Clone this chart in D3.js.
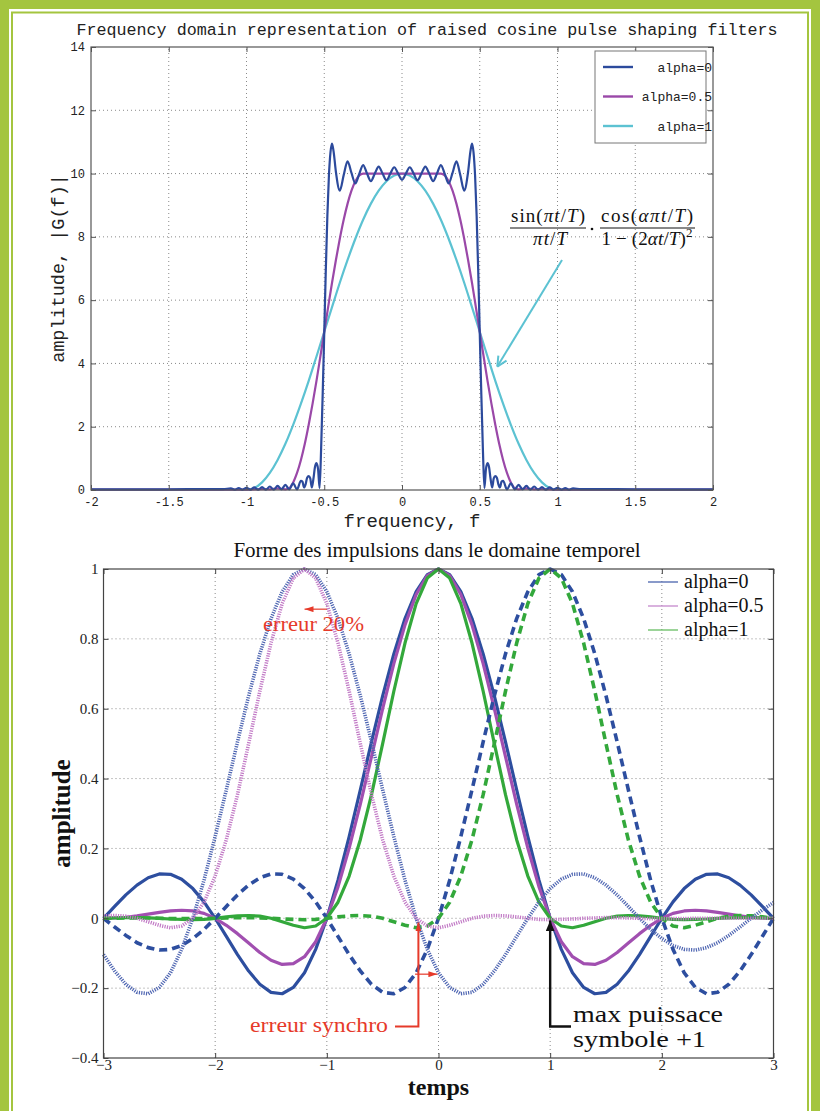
<!DOCTYPE html>
<html><head><meta charset="utf-8">
<script src="https://cdn.jsdelivr.net/npm/d3@7"></script>
<style>html,body{margin:0;padding:0;background:#fff}svg{display:block}</style>
</head><body><svg id="c" width="820" height="1111"></svg>
<script>
// ---------- Frequency response |G(f)| ----------
const freqTicks = [-2, -1.5, -1, -0.5, 0, 0.5, 1, 1.5, 2];
const freqTickLabels = ["-2", "-1.5", "-1", "-0.5", "0", "0.5", "1", "1.5", "2"];
const ampTicks = [0, 2, 4, 6, 8, 10, 12, 14];

// alpha = 0 (truncated sinc, Gibbs ripple)
const fA0 = [-2, -1.5, -1.25, -1.15, -1.1, -1.075, -1.05, -1.025, -1, -0.975, -0.95, -0.925, -0.9, -0.875, -0.85, -0.825, -0.8, -0.775, -0.75, -0.725, -0.7, -0.675, -0.65, -0.64, -0.63, -0.62, -0.61, -0.6, -0.59, -0.58, -0.57, -0.56, -0.55, -0.54, -0.53, -0.52, -0.51, -0.5, -0.49, -0.48, -0.47, -0.46, -0.45, -0.44, -0.425, -0.4, -0.375, -0.35, -0.325, -0.3, -0.275, -0.25, -0.225, -0.2, -0.175, -0.15, -0.125, -0.1, -0.075, -0.05, -0.025,
  0, 0.025, 0.05, 0.075, 0.1, 0.125, 0.15, 0.175, 0.2, 0.225, 0.25, 0.275, 0.3, 0.325, 0.35, 0.375, 0.4, 0.425, 0.44, 0.45, 0.46, 0.47, 0.48, 0.49, 0.5, 0.51, 0.52, 0.53, 0.54, 0.55, 0.56, 0.57, 0.58, 0.59, 0.6, 0.61, 0.62, 0.63, 0.64, 0.65, 0.675, 0.7, 0.725, 0.75, 0.775, 0.8, 0.825, 0.85, 0.875, 0.9, 0.925, 0.95, 0.975, 1, 1.025, 1.05, 1.075, 1.1, 1.15, 1.25, 1.5, 2];
const gA0 = [0.02, 0.02, 0.03, 0.03, 0.05, 0.01, 0.06, 0.01, 0.07, 0.01, 0.08, 0.01, 0.09, 0.01, 0.11, 0.01, 0.13, 0.02, 0.16, 0.02, 0.21, 0.02, 0.29, 0.26, 0.08, 0.18, 0.39, 0.44, 0.37, 0.08, 0.34, 0.72, 0.85, 0.67, 0.06, 1.33, 3.04, 4.97, 6.95, 8.66, 9.93, 10.67, 10.95, 10.70, 10.05, 9.46, 9.95, 10.39, 10.02, 9.69, 9.99, 10.27, 10.00, 9.76, 10.00, 10.22, 10.00, 9.79, 10.00, 10.20, 10.00,
  9.80, 10.00, 10.20, 10.00, 9.79, 10.00, 10.22, 10.00, 9.76, 10.00, 10.27, 9.99, 9.69, 10.02, 10.39, 9.95, 9.46, 10.05, 10.70, 10.95, 10.67, 9.93, 8.66, 6.95, 4.97, 3.04, 1.33, 0.06, 0.67, 0.85, 0.72, 0.34, 0.08, 0.37, 0.44, 0.39, 0.18, 0.08, 0.26, 0.29, 0.02, 0.21, 0.02, 0.16, 0.02, 0.13, 0.01, 0.11, 0.01, 0.09, 0.01, 0.08, 0.01, 0.07, 0.01, 0.06, 0.01, 0.05, 0.03, 0.03, 0.02, 0.02];

// alpha = 0.5
const fA05 = [-2, -1, -0.9, -0.85, -0.8, -0.75, -0.725, -0.7, -0.675, -0.65, -0.625, -0.6, -0.575, -0.55, -0.525, -0.5, -0.475, -0.45, -0.425, -0.4, -0.375, -0.35, -0.325, -0.3, -0.275, -0.25,
  0.25, 0.275, 0.3, 0.325, 0.35, 0.375, 0.4, 0.425, 0.45, 0.475, 0.5, 0.525, 0.55, 0.575, 0.6, 0.625, 0.65, 0.675, 0.7, 0.725, 0.75, 0.8, 0.85, 0.9, 1, 2];
const gA05 = [0.01, 0.01, 0.03, 0.02, 0.05, 0.02, 0.06, 0.24, 0.54, 0.95, 1.46, 2.06, 2.73, 3.45, 4.22, 5.00, 5.78, 6.55, 7.27, 7.94, 8.54, 9.05, 9.46, 9.76, 9.94, 10.00,
  10.00, 9.94, 9.76, 9.46, 9.05, 8.54, 7.94, 7.27, 6.55, 5.78, 5.00, 4.22, 3.45, 2.73, 2.06, 1.46, 0.95, 0.54, 0.24, 0.06, 0.02, 0.05, 0.02, 0.03, 0.01, 0.01];

// alpha = 1
const fA1 = [-2, -1.5, -1, -0.95, -0.9, -0.85, -0.8, -0.75, -0.7, -0.65, -0.6, -0.55, -0.5, -0.45, -0.4, -0.35, -0.3, -0.25, -0.2, -0.15, -0.1, -0.05,
  0, 0.05, 0.1, 0.15, 0.2, 0.25, 0.3, 0.35, 0.4, 0.45, 0.5, 0.55, 0.6, 0.65, 0.7, 0.75, 0.8, 0.85, 0.9, 0.95, 1, 1.5, 2];
const gA1 = [0, 0, 0, 0.06, 0.24, 0.54, 0.95, 1.46, 2.06, 2.73, 3.45, 4.22, 5.00, 5.78, 6.55, 7.27, 7.94, 8.54, 9.05, 9.46, 9.76, 9.94,
  10.00, 9.94, 9.76, 9.46, 9.05, 8.54, 7.94, 7.27, 6.55, 5.78, 5.00, 4.22, 3.45, 2.73, 2.06, 1.46, 0.95, 0.54, 0.24, 0.06, 0, 0, 0];

const freqSeries = [
  {label: "alpha=0",   f: fA0,  g: gA0,  color: "#2c4a9c"},
  {label: "alpha=0.5", f: fA05, g: gA05, color: "#9a48a8"},
  {label: "alpha=1",   f: fA1,  g: gA1,  color: "#5cc2d2"}
];

// ---------- Time-domain pulses ----------
const timeTicks = [-3, -2, -1, 0, 1, 2, 3];
const timeTickLabels = ["\u22123", "\u22122", "\u22121", "0", "1", "2", "3"];
const pulseTicks = [-0.4, -0.2, 0, 0.2, 0.4, 0.6, 0.8, 1];
const pulseTickLabels = ["\u22120.4", "\u22120.2", "0", "0.2", "0.4", "0.6", "0.8", "1"];

const t = [-3, -2.9, -2.8, -2.7, -2.6, -2.5, -2.4, -2.3, -2.2, -2.1, -2, -1.9, -1.8, -1.7, -1.6, -1.5, -1.4, -1.3, -1.2, -1.1, -1, -0.9, -0.8, -0.7, -0.6, -0.5, -0.4, -0.3, -0.2, -0.1,
  0, 0.1, 0.2, 0.3, 0.4, 0.5, 0.6, 0.7, 0.8, 0.9, 1, 1.1, 1.2, 1.3, 1.4, 1.5, 1.6, 1.7, 1.8, 1.9, 2, 2.1, 2.2, 2.3, 2.4, 2.5, 2.6, 2.7, 2.8, 2.9, 3];

// pulses centred on t = 0
const h0 = [0, 0.034, 0.067, 0.095, 0.116, 0.127, 0.126, 0.112, 0.085, 0.047, 0, -0.052, -0.104, -0.151, -0.189, -0.212, -0.216, -0.198, -0.156, -0.089, 0, 0.109, 0.234, 0.368, 0.505, 0.637, 0.757, 0.858, 0.935, 0.984,
  1, 0.984, 0.935, 0.858, 0.757, 0.637, 0.505, 0.368, 0.234, 0.109, 0, -0.089, -0.156, -0.198, -0.216, -0.212, -0.189, -0.151, -0.104, -0.052, 0, 0.047, 0.085, 0.112, 0.126, 0.127, 0.116, 0.095, 0.067, 0.034, 0];
const h05 = [0, 0.001, 0.003, 0.007, 0.012, 0.017, 0.021, 0.023, 0.021, 0.014, 0, -0.020, -0.044, -0.071, -0.098, -0.120, -0.132, -0.130, -0.110, -0.067, 0, 0.090, 0.201, 0.327, 0.463, 0.600, 0.729, 0.840, 0.927, 0.981,
  1, 0.981, 0.927, 0.840, 0.729, 0.600, 0.463, 0.327, 0.201, 0.090, 0, -0.067, -0.110, -0.130, -0.132, -0.120, -0.098, -0.071, -0.044, -0.020, 0, 0.014, 0.021, 0.023, 0.021, 0.017, 0.012, 0.007, 0.003, 0.001, 0];
const h1 = [0, 0.001, 0.002, 0.002, 0.001, 0, -0.002, -0.003, -0.004, -0.003, 0, 0.004, 0.007, 0.008, 0.006, 0, -0.010, -0.020, -0.027, -0.022, 0, 0.046, 0.121, 0.225, 0.354, 0.500, 0.650, 0.788, 0.901, 0.974,
  1, 0.974, 0.901, 0.788, 0.650, 0.500, 0.354, 0.225, 0.121, 0.046, 0, -0.022, -0.027, -0.020, -0.010, 0, 0.006, 0.008, 0.007, 0.004, 0, -0.003, -0.004, -0.003, -0.002, 0, 0.001, 0.002, 0.002, 0.001, 0];
// next symbol, centred on t = 1
const h0Next = [0, -0.025, -0.049, -0.070, -0.084, -0.091, -0.089, -0.078, -0.058, -0.032, 0, 0.034, 0.067, 0.095, 0.116, 0.127, 0.126, 0.112, 0.085, 0.047, 0, -0.052, -0.104, -0.151, -0.189, -0.212, -0.216, -0.198, -0.156, -0.089,
  0, 0.109, 0.234, 0.368, 0.505, 0.637, 0.757, 0.858, 0.935, 0.984, 1, 0.984, 0.935, 0.858, 0.757, 0.637, 0.505, 0.368, 0.234, 0.109, 0, -0.089, -0.156, -0.198, -0.216, -0.212, -0.189, -0.151, -0.104, -0.052, 0];
const h1Next = [0, 0, 0.001, 0.001, 0.001, 0, -0.001, -0.001, -0.001, -0.001, 0, 0.001, 0.002, 0.002, 0.001, 0, -0.002, -0.003, -0.004, -0.003, 0, 0.004, 0.007, 0.008, 0.006, 0, -0.010, -0.020, -0.027, -0.022,
  0, 0.046, 0.121, 0.225, 0.354, 0.500, 0.650, 0.788, 0.901, 0.974, 1, 0.974, 0.901, 0.788, 0.650, 0.500, 0.354, 0.225, 0.121, 0.046, 0, -0.022, -0.027, -0.020, -0.010, 0, 0.006, 0.008, 0.007, 0.004, 0];
// previous symbol received with a 20% timing error, centred on t = -1.2
const h0Late = [-0.104, -0.151, -0.189, -0.212, -0.216, -0.198, -0.156, -0.089, 0, 0.109, 0.234, 0.368, 0.505, 0.637, 0.757, 0.858, 0.935, 0.984, 1, 0.984, 0.935, 0.858, 0.757, 0.637, 0.505, 0.368, 0.234, 0.109, 0, -0.089,
  -0.156, -0.198, -0.216, -0.212, -0.189, -0.151, -0.104, -0.052, 0, 0.047, 0.085, 0.112, 0.126, 0.127, 0.116, 0.095, 0.067, 0.034, 0, -0.032, -0.058, -0.078, -0.089, -0.091, -0.084, -0.070, -0.049, -0.025, 0, 0.024, 0.045];
const h05Late = [0.007, 0.008, 0.006, 0, -0.010, -0.020, -0.027, -0.022, 0, 0.046, 0.121, 0.225, 0.354, 0.500, 0.650, 0.788, 0.901, 0.974, 1, 0.974, 0.901, 0.788, 0.650, 0.500, 0.354, 0.225, 0.121, 0.046, 0, -0.022,
  -0.027, -0.020, -0.010, 0, 0.006, 0.008, 0.007, 0.004, 0, -0.003, -0.004, -0.003, -0.002, 0, 0.001, 0.002, 0.002, 0.001, 0, -0.001, -0.001, -0.001, -0.001, 0, 0, 0, 0, 0, 0, 0, 0];

const pulseSeries = [
  {v: h0,      color: "#2d4e9f", width: 3.2, dash: null},
  {v: h05,     color: "#a14fb0", width: 3.2, dash: null},
  {v: h1,      color: "#33a83b", width: 3.2, dash: null},
  {v: h0Next,  color: "#2d4e9f", width: 3.6, dash: "8,5"},
  {v: h1Next,  color: "#33a83b", width: 3.6, dash: "8,5"},
  {v: h0Late,  color: "#4f66b2", width: 3.6, dash: "1.2,1.2"},
  {v: h05Late, color: "#c27ac6", width: 3.6, dash: "1.2,1.2"}
];
const pulseLegend = [
  {label: "alpha=0",   color: "#4a63ad"},
  {label: "alpha=0.5", color: "#c488cc"},
  {label: "alpha=1",   color: "#66bd62"}
];

const svg = d3.select("#c");
const GREEN = "#a4c53f";

// page frame
svg.append("rect").attr("width", 820).attr("height", 1111).attr("fill", GREEN);
svg.append("rect").attr("x", 9).attr("y", 9).attr("width", 802).attr("height", 1200).attr("fill", "#fff");
svg.append("rect").attr("x", 12).attr("y", 12.5).attr("width", 796).attr("height", 1200)
  .attr("fill", "none").attr("stroke", GREEN).attr("stroke-width", 2);

const defs = svg.append("defs");
function headMarker(id, color, w, h) {
  defs.append("marker").attr("id", id).attr("viewBox", `0 0 ${w} ${h}`)
    .attr("refX", w).attr("refY", h / 2).attr("markerWidth", w).attr("markerHeight", h)
    .attr("markerUnits", "userSpaceOnUse").attr("orient", "auto")
    .append("path").attr("d", `M0,0L${w},${h / 2}L0,${h}Z`).attr("fill", color);
}
headMarker("redHead", "#e63a2a", 9, 6);
headMarker("blackHead", "#111", 11, 9);

function drawGrid(g, x, y, xt, yt) {
  const [x0, x1] = x.range(), [y0, y1] = y.range();
  g.append("g").selectAll("line").data(xt.slice(1, -1)).join("line")
    .attr("x1", d => x(d)).attr("x2", d => x(d)).attr("y1", y0).attr("y2", y1)
    .attr("stroke", "#8a8a8a").attr("stroke-width", 1).attr("stroke-dasharray", "1,3");
  g.append("g").selectAll("line").data(yt.slice(1, -1)).join("line")
    .attr("y1", d => y(d)).attr("y2", d => y(d)).attr("x1", x0).attr("x2", x1)
    .attr("stroke", "#8a8a8a").attr("stroke-width", 1).attr("stroke-dasharray", "1,3");
}

function drawAxes(g, x, y, xt, xl, yt, yl, font, size, color, xPad, yPad) {
  const [x0, x1] = x.range(), [y0, y1] = y.range();
  const style = s => s.call(a => a.select(".domain").remove())
    .call(a => a.selectAll("line").attr("stroke", color))
    .call(a => a.selectAll("text").attr("font-family", font).attr("font-size", size).attr("fill", "#222"));
  g.append("g").attr("transform", `translate(0,${y0})`)
    .call(d3.axisBottom(x).tickValues(xt).tickFormat((d, i) => xl[i]).tickSizeInner(-5).tickSizeOuter(0).tickPadding(xPad)).call(style);
  g.append("g").attr("transform", `translate(0,${y1})`)
    .call(d3.axisTop(x).tickValues(xt).tickFormat("").tickSizeInner(-5).tickSizeOuter(0)).call(style);
  g.append("g").attr("transform", `translate(${x0},0)`)
    .call(d3.axisLeft(y).tickValues(yt).tickFormat((d, i) => yl[i]).tickSizeInner(-5).tickSizeOuter(0).tickPadding(yPad)).call(style);
  g.append("g").attr("transform", `translate(${x1},0)`)
    .call(d3.axisRight(y).tickValues(yt).tickFormat("").tickSizeInner(-5).tickSizeOuter(0)).call(style);
  g.append("rect").attr("x", x0).attr("y", y1).attr("width", x1 - x0).attr("height", y0 - y1)
    .attr("fill", "none").attr("stroke", color).attr("stroke-width", 1.2);
}

// ================= upper chart =================
const MONO = "Liberation Mono, DejaVu Sans Mono, monospace";
const fx = d3.scaleLinear().domain([-2, 2]).range([91, 713]);
const fy = d3.scaleLinear().domain([0, 14]).range([490, 47]);
const g1 = svg.append("g");

g1.append("text").attr("x", 427).attr("y", 35).attr("text-anchor", "middle")
  .attr("font-family", MONO).attr("font-size", 16.7).attr("fill", "#222")
  .text("Frequency domain representation of raised cosine pulse shaping filters");

drawGrid(g1, fx, fy, freqTicks, ampTicks);

const lineF = d3.line().x(d => fx(d[0])).y(d => fy(d[1])).curve(d3.curveMonotoneX);
freqSeries.slice().reverse().forEach(s => {
  g1.append("path").datum(d3.zip(s.f, s.g)).attr("d", lineF)
    .attr("fill", "none").attr("stroke", s.color).attr("stroke-width", 2.2).attr("stroke-linejoin", "round");
});

drawAxes(g1, fx, fy, freqTicks, freqTickLabels, ampTicks, ampTicks.map(String), MONO, 12, "#555", 7, 6);

g1.append("text").attr("x", fx(0) + 10).attr("y", 527).attr("text-anchor", "middle")
  .attr("font-family", MONO).attr("font-size", 19).attr("fill", "#222").text("frequency, f");
g1.append("text").attr("transform", `translate(64,${fy(7)}) rotate(-90)`).attr("text-anchor", "middle")
  .attr("font-family", MONO).attr("font-size", 18.5).attr("fill", "#222").text("amplitude, |G(f)|");

// legend
const lg1 = g1.append("g");
lg1.append("rect").attr("x", 595).attr("y", 51).attr("width", 111).attr("height", 92)
  .attr("fill", "#fff").attr("stroke", "#777").attr("stroke-width", 1);
freqSeries.forEach((s, i) => {
  const yy = 67 + i * 29.5;
  lg1.append("line").attr("x1", 603).attr("x2", 633).attr("y1", yy).attr("y2", yy)
    .attr("stroke", s.color).attr("stroke-width", 2.4);
  lg1.append("text").attr("x", 712).attr("y", yy + 4.5).attr("text-anchor", "end")
    .attr("font-family", MONO).attr("font-size", 13).attr("fill", "#222").text(s.label);
});

// formula of the time-domain pulse
const SERIF = "Liberation Serif, Times New Roman, serif";
function mathText(x, y, parts, len) {
  const txt = g1.append("text").attr("x", x).attr("y", y).attr("text-anchor", "middle")
    .attr("font-family", SERIF).attr("font-size", 19).attr("fill", "#111")
    .attr("textLength", len).attr("lengthAdjust", "spacing");
  parts.forEach(p => {
    const ts = txt.append("tspan").text(p[0]);
    if (p[1] === 1) ts.attr("font-style", "italic");
    if (p[1] === 2) ts.attr("font-size", 13).attr("dy", -8);
  });
}
mathText(548, 222, [["sin(", 0], ["\u03c0t", 1], ["/", 0], ["T", 1], [")", 0]], 74);
mathText(550, 245, [["\u03c0t", 1], ["/", 0], ["T", 1]], 34);
mathText(647, 222, [["cos(", 0], ["\u03b1\u03c0t", 1], ["/", 0], ["T", 1], [")", 0]], 92);
mathText(647, 245, [["1 \u2212 (2", 0], ["\u03b1t", 1], ["/", 0], ["T", 1], [")", 0], ["2", 2]], 91);
g1.append("line").attr("x1", 510).attr("x2", 586).attr("y1", 228).attr("y2", 228).attr("stroke", "#111").attr("stroke-width", 1);
g1.append("line").attr("x1", 600).attr("x2", 695).attr("y1", 228).attr("y2", 228).attr("stroke", "#111").attr("stroke-width", 1);
g1.append("circle").attr("cx", 592).attr("cy", 229).attr("r", 1.3).attr("fill", "#111");

// arrow from the formula to the alpha=1 curve
const arrTip = [fx(0.6) + 2, fy(3.9)], arrTail = [562, 260];
g1.append("line").attr("x1", arrTail[0]).attr("y1", arrTail[1]).attr("x2", arrTip[0]).attr("y2", arrTip[1])
  .attr("stroke", "#5cc2d2").attr("stroke-width", 2);
{
  const ang = Math.atan2(arrTip[1] - arrTail[1], arrTip[0] - arrTail[0]);
  [0.45, -0.45].forEach(da => {
    g1.append("line").attr("x1", arrTip[0]).attr("y1", arrTip[1])
      .attr("x2", arrTip[0] - 11 * Math.cos(ang + da)).attr("y2", arrTip[1] - 11 * Math.sin(ang + da))
      .attr("stroke", "#5cc2d2").attr("stroke-width", 2);
  });
}

// ================= lower chart =================
const tx = d3.scaleLinear().domain([-3, 3]).range([103.5, 773.5]);
const ty = d3.scaleLinear().domain([-0.4, 1]).range([1058, 569]);
const g2 = svg.append("g");

g2.append("text").attr("x", 437).attr("y", 557).attr("text-anchor", "middle")
  .attr("font-family", SERIF).attr("font-size", 21).attr("fill", "#111")
  .text("Forme des impulsions dans le domaine temporel");

drawGrid(g2, tx, ty, timeTicks, pulseTicks);

const lineT = d3.line().x((d, i) => tx(t[i])).y(d => ty(d));
pulseSeries.forEach(s => {
  const p = g2.append("path").datum(s.v).attr("d", lineT)
    .attr("fill", "none").attr("stroke", s.color).attr("stroke-width", s.width).attr("stroke-linejoin", "round");
  if (s.dash) p.attr("stroke-dasharray", s.dash);
});

drawAxes(g2, tx, ty, timeTicks, timeTickLabels, pulseTicks, pulseTickLabels, SERIF, 15, "#444", 1, 5);

g2.append("text").attr("x", tx(0)).attr("y", 1095).attr("text-anchor", "middle")
  .attr("font-family", SERIF).attr("font-weight", "bold").attr("font-size", 24).attr("fill", "#111").text("temps");
g2.append("text").attr("transform", `translate(70,${ty(0.3)}) rotate(-90)`).attr("text-anchor", "middle")
  .attr("font-family", SERIF).attr("font-weight", "bold").attr("font-size", 25).attr("fill", "#111").text("amplitude");

// legend
pulseLegend.forEach((s, i) => {
  const yy = 582 + i * 24;
  g2.append("line").attr("x1", 648).attr("x2", 678).attr("y1", yy).attr("y2", yy)
    .attr("stroke", s.color).attr("stroke-width", 1.3);
  g2.append("text").attr("x", 684).attr("y", yy + 6).attr("font-family", SERIF).attr("font-size", 20)
    .attr("fill", "#111").text(s.label);
});

// annotations
const RED = "#e63a2a";
g2.append("line").attr("x1", tx(-1)).attr("x2", tx(-1.2)).attr("y1", ty(0.885)).attr("y2", ty(0.885))
  .attr("stroke", RED).attr("stroke-width", 1.2).attr("marker-end", "url(#redHead)");
g2.append("text").attr("x", 263).attr("y", 631).attr("font-family", SERIF).attr("font-size", 22)
  .attr("textLength", 101).attr("lengthAdjust", "spacingAndGlyphs")
  .attr("fill", RED).text("erreur 20%");

g2.append("path").attr("d", `M${395},${ty(-0.31)}H${tx(-0.18)}V${ty(-0.012)}`)
  .attr("fill", "none").attr("stroke", RED).attr("stroke-width", 2).attr("marker-end", "url(#redHead)");
g2.append("line").attr("x1", tx(-0.21)).attr("x2", tx(-0.01)).attr("y1", ty(-0.16)).attr("y2", ty(-0.16))
  .attr("stroke", RED).attr("stroke-width", 1.2).attr("marker-end", "url(#redHead)");
g2.append("text").attr("x", 250).attr("y", 1032).attr("font-family", SERIF).attr("font-size", 22)
  .attr("textLength", 138).attr("lengthAdjust", "spacingAndGlyphs")
  .attr("fill", RED).text("erreur synchro");

g2.append("path").attr("d", `M${571},${ty(-0.31)}H${tx(1)}V${ty(-0.006)}`)
  .attr("fill", "none").attr("stroke", "#111").attr("stroke-width", 2.4).attr("marker-end", "url(#blackHead)");
g2.append("text").attr("x", 573).attr("y", 1022).attr("font-family", SERIF).attr("font-size", 24)
  .attr("textLength", 150).attr("lengthAdjust", "spacingAndGlyphs")
  .attr("fill", "#111").text("max puissace");
g2.append("text").attr("x", 573).attr("y", 1047).attr("font-family", SERIF).attr("font-size", 24)
  .attr("textLength", 133).attr("lengthAdjust", "spacingAndGlyphs")
  .attr("fill", "#111").text("symbole +1");
</script></body></html>
